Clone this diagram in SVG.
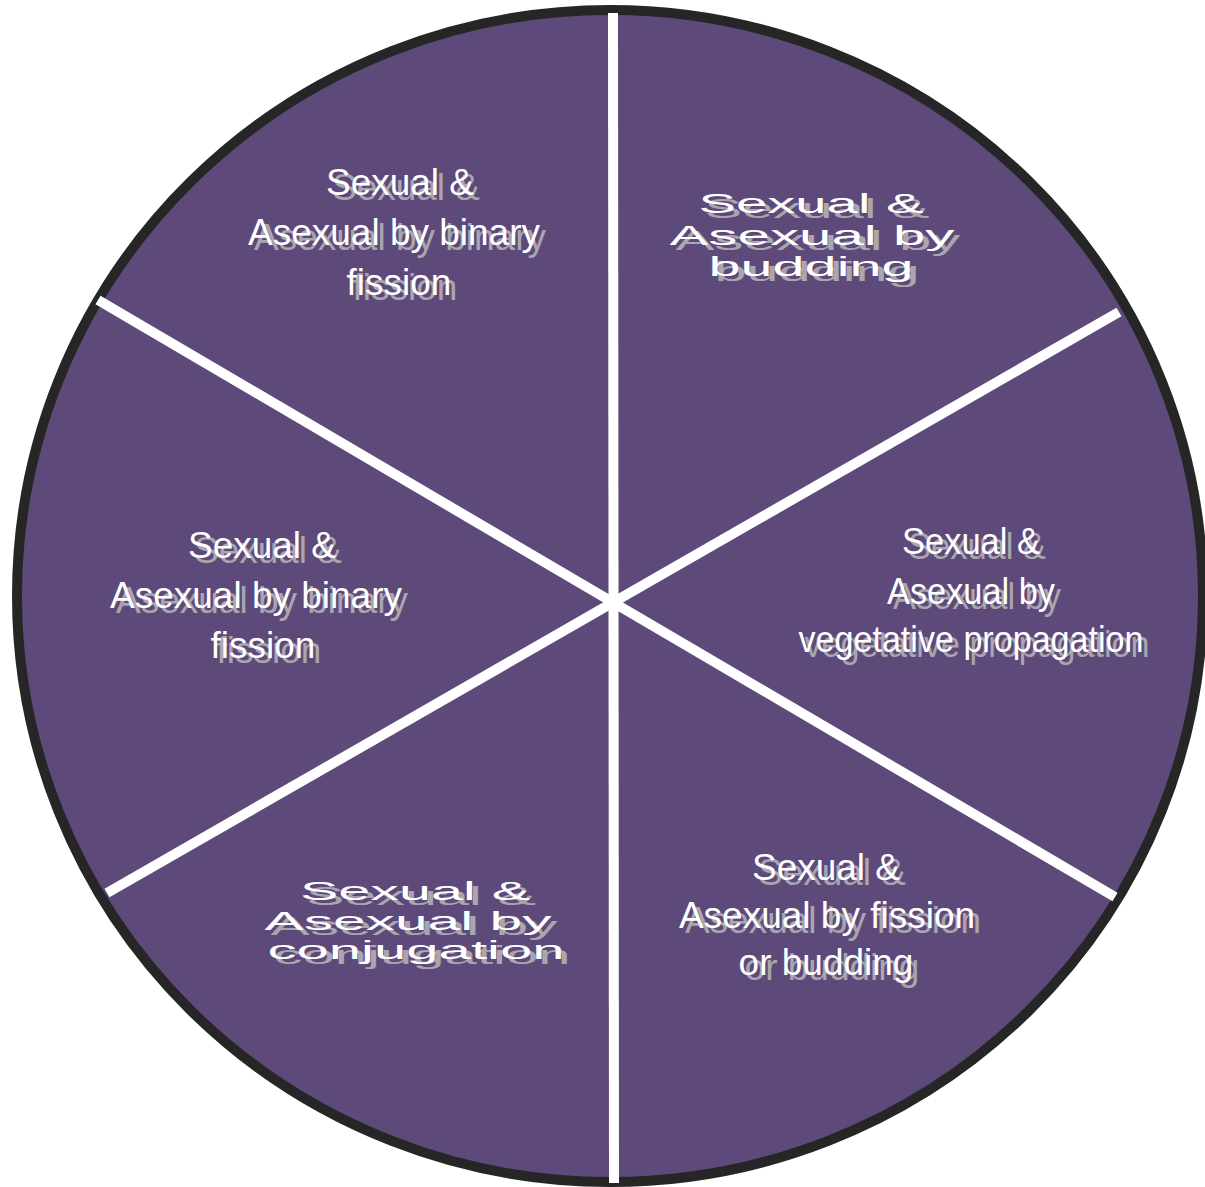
<svg xmlns="http://www.w3.org/2000/svg" width="1205" height="1187" viewBox="0 0 1205 1187">
<style>
.t{font-family:"Liberation Sans",Arial,sans-serif;text-anchor:middle}
.s{fill:#a9a6ad}
.w{fill:#ffffff}
.f37{font-size:37px}
.f28{font-size:28px}
.f26{font-size:26px}
</style>
<rect width="1205" height="1187" fill="#ffffff"/>
<g id="wheel">
<ellipse cx="610" cy="596" rx="593" ry="586" fill="#5e4a7a" stroke="#262626" stroke-width="10"/>
</g>
<g id="connectors" stroke="#ffffff" stroke-width="10" fill="none">
<line x1="613" y1="13" x2="614" y2="1183"/>
<line x1="98" y1="300" x2="1115" y2="897"/>
<line x1="107" y1="893" x2="1119" y2="312"/>
</g>
<g id="node-top-left" class="t f37">
<g class="s" transform="translate(6,5)">
<text x="400" y="195">Sexual &amp;</text>
<text x="394" y="245">Asexual by binary</text>
<text x="399" y="295">fission</text>
</g>
<g class="w">
<text x="400" y="195">Sexual &amp;</text>
<text x="394" y="245">Asexual by binary</text>
<text x="399" y="295">fission</text>
</g>
</g>
<g id="node-top-right" class="t f28">
<g class="s" transform="translate(6,5)">
<text x="811" y="213" textLength="225" lengthAdjust="spacingAndGlyphs">Sexual &amp;</text>
<text x="812" y="245" textLength="285" lengthAdjust="spacingAndGlyphs">Asexual by</text>
<text x="811" y="276" textLength="205" lengthAdjust="spacingAndGlyphs">budding</text>
</g>
<g class="w">
<text x="811" y="213" textLength="225" lengthAdjust="spacingAndGlyphs">Sexual &amp;</text>
<text x="812" y="245" textLength="285" lengthAdjust="spacingAndGlyphs">Asexual by</text>
<text x="811" y="276" textLength="205" lengthAdjust="spacingAndGlyphs">budding</text>
</g>
</g>
<g id="node-right" class="t f37">
<g class="s" transform="translate(6,5)">
<text x="971" y="554" textLength="138" lengthAdjust="spacingAndGlyphs">Sexual &amp;</text>
<text x="971" y="604" textLength="168" lengthAdjust="spacingAndGlyphs">Asexual by</text>
<text x="971" y="652" textLength="345" lengthAdjust="spacingAndGlyphs">vegetative propagation</text>
</g>
<g class="w">
<text x="971" y="554" textLength="138" lengthAdjust="spacingAndGlyphs">Sexual &amp;</text>
<text x="971" y="604" textLength="168" lengthAdjust="spacingAndGlyphs">Asexual by</text>
<text x="971" y="652" textLength="345" lengthAdjust="spacingAndGlyphs">vegetative propagation</text>
</g>
</g>
<g id="node-bottom-right" class="t f37">
<g class="s" transform="translate(6,5)">
<text x="826" y="880">Sexual &amp;</text>
<text x="827" y="928">Asexual by fission</text>
<text x="826" y="975">or budding</text>
</g>
<g class="w">
<text x="826" y="880">Sexual &amp;</text>
<text x="827" y="928">Asexual by fission</text>
<text x="826" y="975">or budding</text>
</g>
</g>
<g id="node-bottom-left" class="t f26">
<g class="s" transform="translate(6,5)">
<text x="415" y="900" textLength="230" lengthAdjust="spacingAndGlyphs">Sexual &amp;</text>
<text x="408" y="930" textLength="287" lengthAdjust="spacingAndGlyphs">Asexual by</text>
<text x="416" y="959" textLength="297" lengthAdjust="spacingAndGlyphs">conjugation</text>
</g>
<g class="w">
<text x="415" y="900" textLength="230" lengthAdjust="spacingAndGlyphs">Sexual &amp;</text>
<text x="408" y="930" textLength="287" lengthAdjust="spacingAndGlyphs">Asexual by</text>
<text x="416" y="959" textLength="297" lengthAdjust="spacingAndGlyphs">conjugation</text>
</g>
</g>
<g id="node-left" class="t f37">
<g class="s" transform="translate(6,5)">
<text x="262" y="558">Sexual &amp;</text>
<text x="256" y="608">Asexual by binary</text>
<text x="263" y="658">fission</text>
</g>
<g class="w">
<text x="262" y="558">Sexual &amp;</text>
<text x="256" y="608">Asexual by binary</text>
<text x="263" y="658">fission</text>
</g>
</g>
</svg>
